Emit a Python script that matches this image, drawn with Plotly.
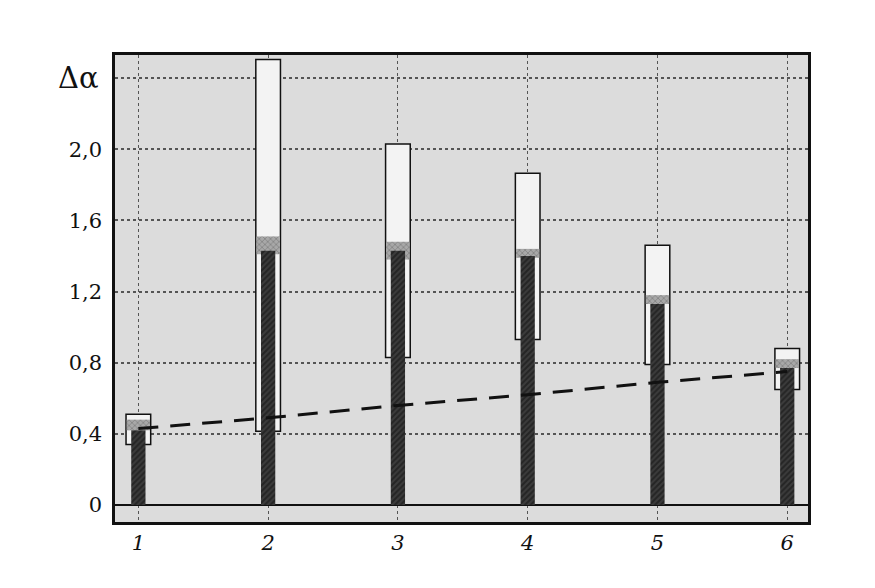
import plotly.graph_objects as go

# ---- data ----
categories = [1, 2, 3, 4, 5, 6]
x_labels = ["1", "2", "3", "4", "5", "6"]
dark_top = [0.42, 1.43, 1.43, 1.40, 1.13, 0.77]
band_lo = [0.42, 1.41, 1.38, 1.39, 1.13, 0.77]
band_hi = [0.48, 1.51, 1.48, 1.44, 1.18, 0.82]
box_lo = [0.34, 0.415, 0.83, 0.93, 0.79, 0.65]
box_hi = [0.51, 2.505, 2.03, 1.865, 1.46, 0.88]
trend = [0.43, 0.49, 0.56, 0.62, 0.69, 0.75]
y_ticks = [0, 0.4, 0.8, 1.2, 1.6, 2.0, 2.4]
y_ticktext = ["0", "0,4", "0,8", "1,2", "1,6", "2,0", ""]

SERIF = "DejaVu Serif"

fig = go.Figure()

# open boxes (range)
fig.add_trace(go.Bar(
    x=categories,
    y=[h - l for h, l in zip(box_hi, box_lo)],
    base=box_lo,
    width=0.19,
    marker=dict(color="#f3f3f3", line=dict(color="#111111", width=1.5)),
    showlegend=False, hoverinfo="skip",
))

# gray band
fig.add_trace(go.Bar(
    x=categories,
    y=[h - l for h, l in zip(band_hi, band_lo)],
    base=band_lo,
    width=0.18,
    marker=dict(color="#8c8c8c", line=dict(width=0),
                pattern=dict(shape="x", fgcolor="#5a5a5a", bgcolor="#a8a8a8",
                             size=4, solidity=0.35)),
    showlegend=False, hoverinfo="skip",
))

# dark bars
fig.add_trace(go.Bar(
    x=categories,
    y=dark_top,
    base=0,
    width=0.11,
    marker=dict(color="#262626", line=dict(width=0),
                pattern=dict(shape="/", fgcolor="#0d0d0d", bgcolor="#3c3c3c",
                             size=4, solidity=0.5)),
    showlegend=False, hoverinfo="skip",
))

# dashed trend line
fig.add_trace(go.Scatter(
    x=categories, y=trend, mode="lines",
    line=dict(color="#111111", width=3, dash="20px,12px"),
    showlegend=False, hoverinfo="skip",
))

fig.update_layout(
    width=875, height=588,
    margin=dict(l=107, r=75, t=47, b=74),
    paper_bgcolor="white",
    plot_bgcolor="#dcdcdc",
    barmode="overlay",
    font=dict(family=SERIF, color="#111111", size=20),
    xaxis=dict(
        range=[0.82, 6.16],
        tickmode="array", tickvals=categories, ticktext=x_labels,
        tickfont=dict(family=SERIF, size=21, style="italic"),
        showgrid=True, gridcolor="#555555", griddash="dot", gridwidth=1,
        showline=True, linecolor="#111111", linewidth=2.5, mirror=True,
        ticks="", zeroline=False,
        ticklabelstandoff=0,
    ),
    yaxis=dict(
        range=[-0.0955, 2.53],
        tickmode="array", tickvals=y_ticks, ticktext=y_ticktext,
        tickfont=dict(family=SERIF, size=21),
        showgrid=True, gridcolor="#555555", griddash="dot", gridwidth=1.5,
        showline=True, linecolor="#111111", linewidth=2.5, mirror=True,
        zeroline=True, zerolinecolor="#111111", zerolinewidth=2,
        ticks="", ticklabelstandoff=6,
    ),
    annotations=[dict(
        text="Δα", xref="paper", yref="y", x=0, y=2.4,
        xanchor="right", yanchor="middle", xshift=-14,
        showarrow=False, font=dict(family=SERIF, size=29, color="#111111"),
    )],
)

fig.write_html("out.html")
